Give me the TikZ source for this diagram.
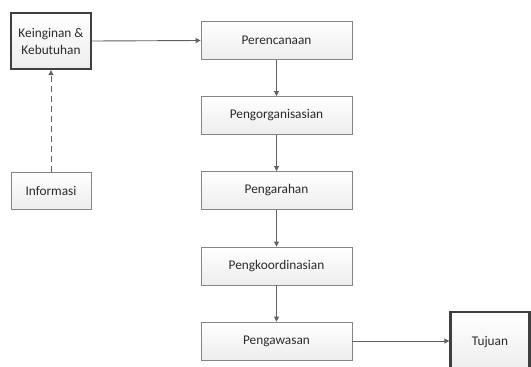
\documentclass[tikz,border=0pt]{standalone}
\usepackage{fontspec}
\setmainfont{Carlito}
\usetikzlibrary{arrows.meta}
\definecolor{boxline}{HTML}{858585}
\definecolor{thickline}{HTML}{3F3F3F}
\definecolor{txt}{HTML}{2B2B2B}
\definecolor{arrowc}{HTML}{606060}
\tikzset{
  stepbox/.style={draw=boxline, line width=0.9pt, top color=white, bottom color=gray!14,
    minimum width=151pt, minimum height=38pt, inner sep=0pt, font=\fontsize{13.3}{15}\selectfont, text=txt},
  smallbox/.style={draw=boxline, line width=0.9pt, top color=white, bottom color=gray!14,
    minimum width=80pt, minimum height=37pt, inner sep=0pt, font=\fontsize{13.3}{15}\selectfont, text=txt},
  thickbox/.style={draw=thickline, line width=2.4pt, top color=white, bottom color=gray!14,
    inner sep=0pt, font=\fontsize{13.3}{17}\selectfont, text=txt, align=center},
  conn/.style={draw=arrowc, line width=0.9pt, -{Triangle[length=5pt,width=5pt]}},
}
\begin{document}
\begin{tikzpicture}[x=1pt,y=-1pt]
\useasboundingbox (0,0) rectangle (531,367);
\clip (0,0) rectangle (531,367);
\node[thickbox, minimum width=80pt, minimum height=56pt] (keb) at (51,41) {Keinginan \&\\Kebutuhan};
\node[smallbox] (inf) at (51,190.5) {Informasi};
\node[stepbox] (p1) at (276.5,40.5) {Perencanaan};
\node[stepbox] (p2) at (276.5,115.5) {Pengorganisasian};
\node[stepbox] (p3) at (276.5,190.5) {Pengarahan};
\node[stepbox] (p4) at (276.5,266) {Pengkoordinasian};
\node[stepbox] (p5) at (276.5,341) {Pengawasan};
\node[thickbox, minimum width=79pt, minimum height=60pt] (tuj) at (490,342) {Tujuan};
\draw[conn] (keb.east) -- (p1.west);
\draw[conn, dash pattern=on 6pt off 4pt] (inf.north) -- (keb.south);
\draw[conn] (p1) -- (p2);
\draw[conn] (p2) -- (p3);
\draw[conn] (p3) -- (p4);
\draw[conn] (p4) -- (p5);
\draw[conn] (p5.east) -- (tuj.west |- p5.east);
\end{tikzpicture}
\end{document}
